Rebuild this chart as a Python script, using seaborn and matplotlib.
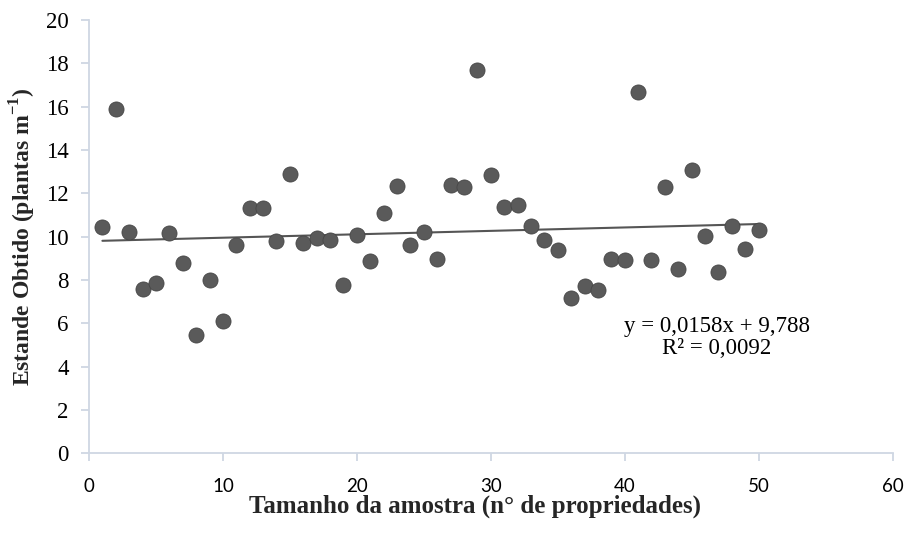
import matplotlib
matplotlib.use("Agg")
import matplotlib.pyplot as plt
from matplotlib.font_manager import FontProperties
import numpy as np
import pandas as pd
import seaborn as sns

# Sample size (number of farms) and obtained plant stand
amostra = list(range(1, 51))
estande = [10.45, 15.9, 10.2, 7.6, 7.85, 10.15, 8.8, 5.45, 8.0, 6.1,
           9.62, 11.3, 11.3, 9.8, 12.9, 9.68, 9.95, 9.85, 7.77, 10.07,
           8.87, 11.1, 12.35, 9.62, 10.22, 8.95, 12.4, 12.3, 17.7, 12.83,
           11.37, 11.46, 10.5, 9.83, 9.37, 7.17, 7.7, 7.55, 8.98, 8.92,
           16.68, 8.92, 12.3, 8.5, 13.06, 10.03, 8.38, 10.5, 9.42, 10.3]

# Linear trend reported on the chart
slope = 0.0158
intercept = 9.788
r2 = 0.0092

x_ticks = [0, 10, 20, 30, 40, 50, 60]
y_ticks = list(range(0, 21, 2))

sns.set_theme(style="white")

serif = "Liberation Serif"
sans = "Lato"
plt.rcParams["mathtext.fontset"] = "custom"
plt.rcParams["mathtext.rm"] = serif
plt.rcParams["mathtext.bf"] = serif + ":bold"
plt.rcParams["font.family"] = [serif, "DejaVu Sans"]

df = pd.DataFrame({"amostra": amostra, "estande": estande})

fig = plt.figure(figsize=(9.10, 5.37), dpi=100)
ax = fig.add_axes([0.0978, 0.156, 0.883, 0.807])

# Trend line from the reported equation
xl = np.array([amostra[0], amostra[-1]], dtype=float)
trend = pd.DataFrame({"x": xl, "y": slope * xl + intercept})
sns.lineplot(data=trend, x="x", y="y", ax=ax, color="#555555", linewidth=1.5, zorder=2)

sns.scatterplot(data=df, x="amostra", y="estande", ax=ax, s=118,
                color="#5a5a5a", edgecolor="#464646", linewidth=0.6, zorder=3)

ax.set_xlim(0, 60)
ax.set_ylim(0, 20)
ax.set_xticks(x_ticks)
ax.set_yticks(y_ticks)

xtick_fp = FontProperties(family=sans, size=13.5)
ytick_fp = FontProperties(family=serif, size=16.5)
ax.set_xticklabels([str(v) for v in x_ticks], fontproperties=xtick_fp)
ax.set_yticklabels([str(v) for v in y_ticks], fontproperties=ytick_fp)

spine_color = "#cfd7e3"
for side in ("top", "right"):
    ax.spines[side].set_visible(False)
for side in ("left", "bottom"):
    ax.spines[side].set_color(spine_color)
    ax.spines[side].set_linewidth(1.3)
ax.tick_params(axis="both", which="major", direction="out", length=5.5,
               width=1.3, color=spine_color, labelcolor="black",
               bottom=True, left=True)
ax.tick_params(axis="x", pad=12)
ax.tick_params(axis="y", pad=9)

ax.set_xlabel("Tamanho da amostra (n° de propriedades)", fontfamily=serif,
              fontweight="bold", fontsize=18, labelpad=2)
ax.xaxis.set_label_coords(0.48, -0.095)
ax.set_ylabel(r"Estande Obtido (plantas m$^{\mathbf{-1}}$)", fontfamily=serif,
              fontweight="bold", fontsize=17, labelpad=6)

eq = "y = {}x + {}".format(str(slope).replace(".", ","), str(intercept).replace(".", ","))
r2_txt = "R² = {}".format(str(r2).replace(".", ","))
ax.text(46.9, 5.34, eq + "\n" + r2_txt, fontfamily=serif, fontsize=16.5,
        ha="center", va="center", linespacing=1.05, color="black")

for lab in ax.get_yticklabels():
    lab.set_fontproperties(ytick_fp)
for lab in ax.get_xticklabels():
    lab.set_fontproperties(xtick_fp)

fig.savefig("out.png", dpi=100, facecolor="white")
